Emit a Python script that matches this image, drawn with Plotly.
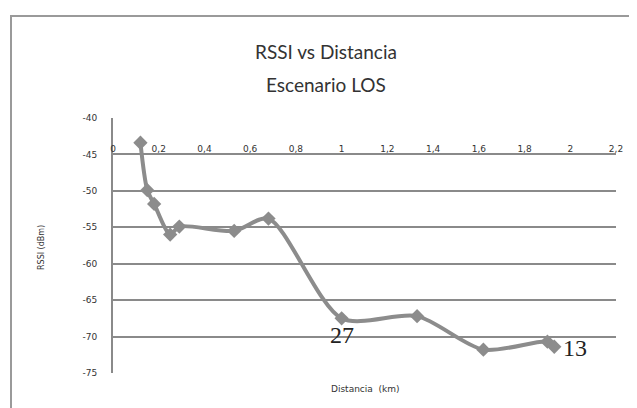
import plotly.graph_objects as go

distance_km = [0.12, 0.15, 0.18, 0.25, 0.29, 0.53, 0.68, 1.00, 1.33, 1.62, 1.90, 1.93]
rssi_dbm = [-43.4, -49.9, -51.8, -56.0, -54.9, -55.5, -53.8, -67.5, -67.2, -71.8, -70.7, -71.4]
x_ticks = [0, 0.2, 0.4, 0.6, 0.8, 1, 1.2, 1.4, 1.6, 1.8, 2, 2.2]
x_tick_text = ["0", "0,2", "0,4", "0,6", "0,8", "1", "1,2", "1,4", "1,6", "1,8", "2", "2,2"]
y_ticks = [-40, -45, -50, -55, -60, -65, -70, -75]
y_tick_text = ["-40", "-45", "-50", "-55", "-60", "-65", "-70", "-75"]
labels = [("27", 1.0, -69.8), ("13", 2.02, -71.5)]

W, H = 637, 408
L, R, T, B = 105, 29, 110, 43

fig = go.Figure()
fig.add_trace(go.Scatter(
    x=distance_km, y=rssi_dbm, mode="lines+markers",
    line=dict(color="#8c8c8c", width=4, shape="spline", smoothing=0.8),
    marker=dict(symbol="diamond", size=11, color="#8c8c8c"),
    showlegend=False, hoverinfo="skip"))

for txt, xv, yv in labels:
    fig.add_annotation(x=xv, y=yv, text=txt, showarrow=False,
                       xanchor="center", yanchor="middle",
                       font=dict(family="Liberation Serif", size=24, color="#222222"))

pw = W - L - R
ph = H - T - B
def px(xp):
    return (xp - L) / pw
def py(yp):
    return (H - B - yp) / ph

def note(x, y, text, size, family="Lato", angle=0):
    return dict(xref="paper", yref="paper", x=px(x), y=py(y), text=text,
                xanchor="center", yanchor="middle", textangle=angle,
                showarrow=False, font=dict(size=size, color="#333333", family=family))

fig.update_layout(
    width=W, height=H,
    margin=dict(l=L, r=R, t=T, b=B, pad=0),
    paper_bgcolor="white", plot_bgcolor="white",
    font=dict(family="Lato", color="#333333"),
    xaxis=dict(range=[0, 2.2], tickvals=x_ticks, ticktext=x_tick_text,
               side="top", anchor="free", position=py(146),
               showgrid=False, zeroline=False, showline=False, ticks="",
               tickfont=dict(size=9, color="#333333", family="DejaVu Sans")),
    yaxis=dict(range=[-75, -40], tickvals=y_ticks, ticktext=y_tick_text, showgrid=True,
               gridcolor="#8a8a8a", gridwidth=2, zeroline=False,
               showline=True, linecolor="#8a8a8a", linewidth=2,
               ticks="", ticklabelstandoff=12,
               tickfont=dict(size=9, color="#333333", family="DejaVu Sans")),
    annotations=list(fig.layout.annotations) + [
        note(318, 43, "RSSI vs Distancia", 19),
        note(318, 76, "Escenario LOS", 19),
        note(33, 240, "RSSI (dBm)", 8, "DejaVu Sans", -90),
        note(357, 381, "Distancia  (km)", 9, "DejaVu Sans"),
    ],
    shapes=[dict(type="rect", xref="paper", yref="paper",
                 x0=px(3), x1=px(660), y0=py(8), y1=py(430),
                 line=dict(color="#9a9a9a", width=2), layer="below")],
)

fig.write_html("out.html")
